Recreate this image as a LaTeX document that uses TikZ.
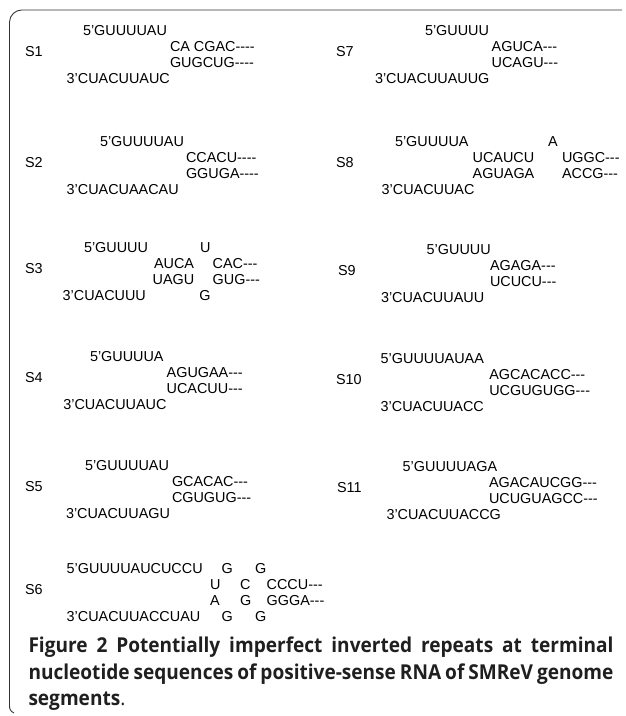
\documentclass[tikz,border=0pt]{standalone}
\usepackage{fontspec}
\setmainfont{Liberation Sans}
\newfontfamily\capf[FakeStretch=0.93,BoldFeatures={FakeStretch=0.93}]{Open Sans}
\newcommand\hy{\mbox{-}}
\tikzset{
  seq/.style={anchor=base west, inner sep=0pt, outer sep=0pt, font=\fontsize{14.4}{16}\selectfont, text=black},
  lab/.style={seq},
  captxt/.style={anchor=base west, inner sep=0pt, outer sep=0pt, font=\capf\bfseries\fontsize{20.5}{26}\selectfont, text=black!88},
  frameline/.style={draw=black!80, line width=0.9pt}
}
\begin{document}
\begin{tikzpicture}[x=1pt,y=-1pt]
\useasboundingbox (0,0) rectangle (625,716);
% frame
\draw[frameline] (14,713) .. controls (10,711) and (9.5,709) .. (9.5,705) -- (9.5,22) .. controls (9.5,15.4) and (15.4,10) .. (21.5,10) -- (622,10);
% ---- S1
\node[lab] (l1) at (25,56.7) {S1};
\node[seq] (s1a) at (83,35.2) {5’GUUUUAU};
\node[seq] (s1b) at (170,51.7) {CA CGAC\hy\hy\hy\hy};
\node[seq] (s1c) at (170,67.7) {GUGCUG\hy\hy\hy\hy};
\node[seq] (s1d) at (66.7,83.7) {3’CUACUUAUC};
% ---- S2
\node[lab] (l2) at (25,167.7) {S2};
\node[seq] (s2a) at (100,146.2) {5’GUUUUAU};
\node[seq] (s2b) at (186,162.7) {CCACU\hy\hy\hy\hy};
\node[seq] (s2c) at (186,178.7) {GGUGA\hy\hy\hy\hy};
\node[seq] (s2d) at (66.7,194.7) {3’CUACUAACAU};
% ---- S3
\node[lab] (l3) at (25,273.7) {S3};
\node[seq] (s3a) at (84,252.2) {5’GUUUU};
\node[seq] (s3a2) at (200,252.2) {U};
\node[seq] (s3b) at (154,268.7) {AUCA};
\node[seq] (s3b2) at (212.7,268.7) {CAC\hy\hy\hy};
\node[seq] (s3c) at (152.7,284.7) {UAGU};
\node[seq] (s3c2) at (212.7,284.7) {GUG\hy\hy\hy};
\node[seq] (s3d) at (62.7,300.7) {3’CUACUUU};
\node[seq] (s3d2) at (199.3,300.7) {G};
% ---- S4
\node[lab] (l4) at (25,382.7) {S4};
\node[seq] (s4a) at (90,361.2) {5’GUUUUA};
\node[seq] (s4b) at (166.7,377.7) {AGUGAA\hy\hy\hy};
\node[seq] (s4c) at (166.7,393.7) {UCACUU\hy\hy\hy};
\node[seq] (s4d) at (63.3,409.7) {3’CUACUUAUC};
% ---- S5
\node[lab] (l5) at (25,491.7) {S5};
\node[seq] (s5a) at (85,470.2) {5’GUUUUAU};
\node[seq] (s5b) at (172,486.7) {GCACAC\hy\hy\hy};
\node[seq] (s5c) at (172,502.7) {CGUGUG\hy\hy\hy};
\node[seq] (s5d) at (66,518.7) {3’CUACUUAGU};
% ---- S6
\node[lab] (l6) at (25,594.7) {S6};
\node[seq] (s6a) at (66.7,573.2) {5’GUUUUAUCUCCU};
\node[seq] (s6a2) at (221.7,573.2) {G};
\node[seq] (s6a3) at (255,573.2) {G};
\node[seq] (s6b) at (210,589.7) {U};
\node[seq] (s6b2) at (240,589.7) {C};
\node[seq] (s6b3) at (266.7,589.7) {CCCU\hy\hy\hy};
\node[seq] (s6c) at (210,605.7) {A};
\node[seq] (s6c2) at (240,605.7) {G};
\node[seq] (s6c3) at (266.7,605.7) {GGGA\hy\hy\hy};
\node[seq] (s6d) at (66.7,621.7) {3’CUACUUACCUAU};
\node[seq] (s6d2) at (221.7,621.7) {G};
\node[seq] (s6d3) at (255,621.7) {G};
% ---- S7
\node[lab] (l7) at (336,56.7) {S7};
\node[seq] (s7a) at (425,35.2) {5’GUUUU};
\node[seq] (s7b) at (491.7,51.7) {AGUCA\hy\hy\hy};
\node[seq] (s7c) at (491.7,67.7) {UCAGU\hy\hy\hy};
\node[seq] (s7d) at (375,83.7) {3’CUACUUAUUG};
% ---- S8
\node[lab] (l8) at (336,167.7) {S8};
\node[seq] (s8a) at (395,146.2) {5’GUUUUA};
\node[seq] (s8a2) at (548,146.2) {A};
\node[seq] (s8b) at (472.7,162.7) {UCAUCU};
\node[seq] (s8b2) at (562,162.7) {UGGC\hy\hy\hy};
\node[seq] (s8c) at (472.7,178.7) {AGUAGA};
\node[seq] (s8c2) at (562,178.7) {ACCG\hy\hy\hy};
\node[seq] (s8d) at (381.7,194.7) {3’CUACUUAC};
% ---- S9
\node[lab] (l9) at (338,275.7) {S9};
\node[seq] (s9a) at (426.7,254.2) {5’GUUUU};
\node[seq] (s9b) at (490,270.7) {AGAGA\hy\hy\hy};
\node[seq] (s9c) at (490,286.7) {UCUCU\hy\hy\hy};
\node[seq] (s9d) at (381,302.7) {3’CUACUUAUU};
% ---- S10
\node[lab] (l10) at (336,384.7) {S10};
\node[seq] (s10a) at (380.7,363.2) {5’GUUUUAUAA};
\node[seq] (s10b) at (489.3,379.7) {AGCACACC\hy\hy\hy};
\node[seq] (s10c) at (489.3,395.7) {UCGUGUGG\hy\hy\hy};
\node[seq] (s10d) at (380.7,411.7) {3’CUACUUACC};
% ---- S11
\node[lab] (l11) at (337,492.7) {S11};
\node[seq] (s11a) at (402.7,471.2) {5’GUUUUAGA};
\node[seq] (s11b) at (489,487.7) {AGACAUCGG\hy\hy\hy};
\node[seq] (s11c) at (489,503.7) {UCUGUAGCC\hy\hy\hy};
\node[seq] (s11d) at (386.5,519.7) {3’CUACUUACCG};
% ---- caption
\node[captxt] (c1) at (28.5,652.7) {\makebox[585pt][s]{Figure 2 Potentially imperfect inverted repeats at terminal}};
\node[captxt] (c2) at (28.5,679.3) {\makebox[585pt][s]{nucleotide sequences of positive-sense RNA of SMReV genome}};
\node[captxt] (c3) at (28.5,705.3) {segments{\mdseries.}};
\end{tikzpicture}
\end{document}
